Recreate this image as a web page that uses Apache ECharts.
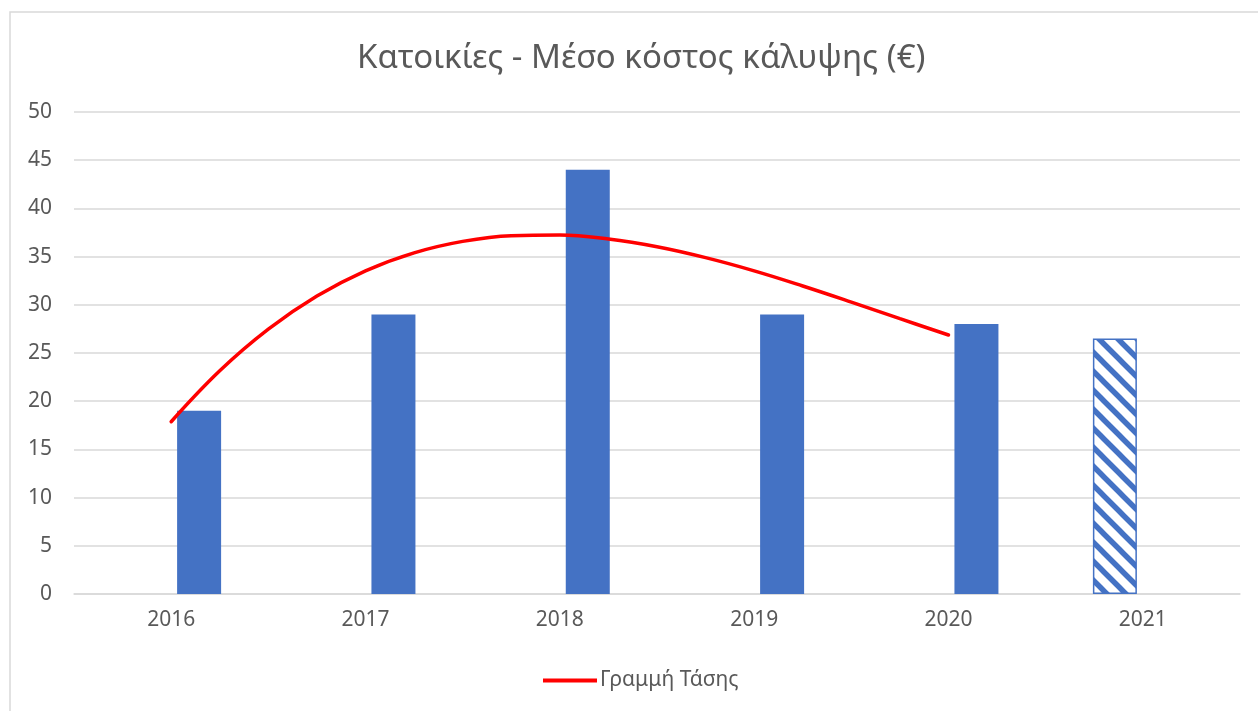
<!DOCTYPE html>
<html>
<head>
<meta charset="utf-8">
<script src="https://cdn.jsdelivr.net/npm/echarts@6/dist/echarts.min.js"></script>
<style>
  html, body { margin: 0; padding: 0; background: #ffffff; }
  #chart { width: 1258px; height: 711px; }
</style>
</head>
<body>
<div id="chart"></div>
<script>
// Years on the category axis
const years = ['2016', '2017', '2018', '2019', '2020', '2021'];
// Average cover cost per year (€); 2021 is drawn hatched as its own series
const actualCost = [19, 29, 44, 29, 28, null];
const estimateCost = [null, null, null, null, null, 26.5];
// Trend curve sampled along the category index (0 = 2016 ... 4 = 2020)
const trendX = [0, 0.25, 0.5, 0.75, 1, 1.25, 1.5, 1.75, 2, 2.25, 2.5, 2.75, 3, 3.25, 3.5, 3.75, 4];
const trendY = [17.87, 23.15, 27.47, 30.90, 33.52, 35.39, 36.58, 37.17, 37.23, 36.82, 36.02, 34.89, 33.52, 31.95, 30.28, 28.56, 26.87];
// Value axis ticks
const yTicks = [0, 5, 10, 15, 20, 25, 30, 35, 40, 45, 50];

const FONT = '"Noto Sans", "Open Sans", sans-serif';
const TEXT = '#595959';
const BLUE = '#4472C4';

// Diagonal stripe tile for the hatched bar
function stripeTile() {
  const P = 19;
  const c = document.createElement('canvas');
  c.width = P; c.height = P;
  const ctx = c.getContext('2d');
  ctx.fillStyle = '#ffffff';
  ctx.fillRect(0, 0, P, P);
  ctx.strokeStyle = BLUE;
  ctx.lineWidth = 5.5;
  ctx.beginPath();
  for (let k = -1; k <= 1; k++) {
    ctx.moveTo(k * P - 2, -2);
    ctx.lineTo(k * P + P + 2, P + 2);
  }
  ctx.stroke();
  return c;
}

const chart = echarts.init(document.getElementById('chart'), null, { renderer: 'canvas' });

chart.setOption({
  animation: false,
  backgroundColor: '#ffffff',
  textStyle: { fontFamily: FONT },
  title: {
    text: 'Κατοικίες - Μέσο κόστος κάλυψης (€)',
    left: 357,
    top: 42,
    padding: 0,
    textStyle: { fontFamily: FONT, fontSize: 33, fontWeight: 'normal', color: TEXT }
  },
  graphic: [{
    type: 'rect',
    shape: { x: 10, y: 12, width: 1300, height: 800 },
    style: { fill: 'none', stroke: '#D9D9D9', lineWidth: 1.5 },
    silent: true
  }],
  legend: {
    data: [{ name: 'Γραμμή Τάσης', icon: 'rect' }],
    left: 543,
    top: 670,
    padding: 0,
    itemWidth: 54,
    itemHeight: 4,
    itemGap: 10,
    textStyle: { fontFamily: FONT, fontSize: 21, color: TEXT, padding: [0, 0, 0, -2] }
  },
  grid: { left: 74, right: 18, top: 112, bottom: 117, containLabel: false },
  xAxis: [{
    type: 'category',
    data: years,
    axisLine: { show: true, lineStyle: { color: '#D9D9D9', width: 1.5 } },
    axisTick: { show: false },
    axisLabel: { color: TEXT, fontSize: 21, fontFamily: FONT, margin: 16 }
  }, {
    type: 'value',
    min: -0.5,
    max: 5.5,
    show: false
  }],
  yAxis: {
    type: 'value',
    min: yTicks[0],
    max: yTicks[yTicks.length - 1],
    interval: 5,
    axisLine: { show: false },
    axisTick: { show: false },
    splitLine: { lineStyle: { color: '#D9D9D9', width: 1.5 } },
    axisLabel: { color: TEXT, fontSize: 21, fontFamily: FONT, margin: 22 }
  },
  series: [{
    name: 'Εκτίμηση',
    type: 'bar',
    data: estimateCost,
    barWidth: 44,
    barGap: '27%',
    itemStyle: {
      color: { image: stripeTile(), repeat: 'repeat' },
      borderColor: BLUE,
      borderWidth: 1.5
    }
  }, {
    name: 'Κόστος',
    type: 'bar',
    data: actualCost,
    barWidth: 44,
    barGap: '27%',
    itemStyle: { color: BLUE }
  }, {
    name: 'Γραμμή Τάσης',
    type: 'line',
    xAxisIndex: 1,
    data: trendX.map((x, i) => [x, trendY[i]]),
    smooth: 0.4,
    showSymbol: false,
    symbol: 'none',
    lineStyle: { color: '#FF0000', width: 3.5, cap: 'round' },
    itemStyle: { color: '#FF0000' },
    z: 5
  }]
});
</script>
</body>
</html>
